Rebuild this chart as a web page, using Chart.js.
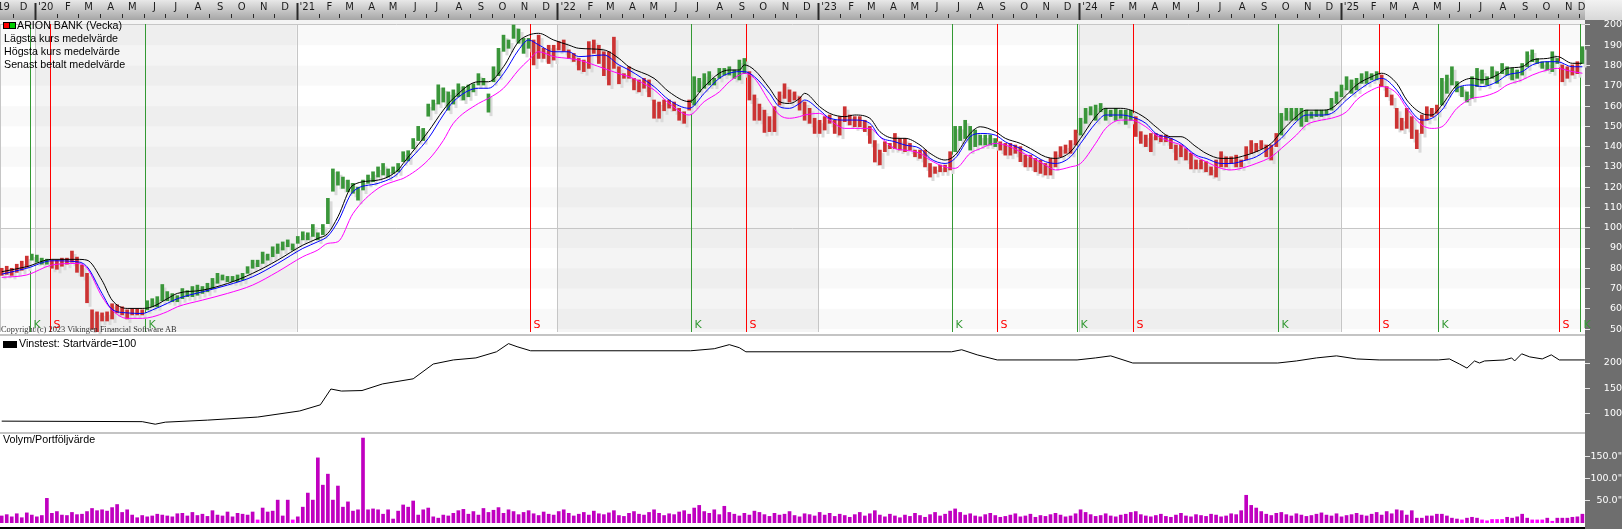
<!DOCTYPE html>
<html>
<head>
<meta charset="utf-8">
<title>ARION BANK (Vecka)</title>
<script src="https://cdn.jsdelivr.net/npm/chart.js@4.4.1/dist/chart.umd.min.js"></script>
<style>
  html, body { margin:0; padding:0; background:#fff; }
  body { position:relative; width:1622px; height:529px; overflow:hidden; }
  canvas { position:absolute; left:0; }
  #price { top:0; }
  #vinst { top:337px; }
  #volym { top:436px; }
  .axiscol { position:absolute; left:1585px; top:20px; width:37px; height:509px; background:#6e6e6e; }
  .corner { position:absolute; left:1585px; top:0; width:37px; height:20px; background:linear-gradient(#f2f2f2,#d8d8d8); }
  .sep { position:absolute; left:0; width:1585px; height:2px; background:#c4c4c4; }
  .txt { position:absolute; font-family:"Liberation Sans", Arial, sans-serif; font-size:10.7px; color:#000; white-space:nowrap; line-height:13px; z-index:5; }
  .copy { position:absolute; left:1px; top:325px; font-family:"Liberation Serif", "Times New Roman", serif; font-size:8.4px; line-height:10px; color:#333; z-index:5; white-space:nowrap; }
  .sq { position:absolute; width:5px; height:5px; border:1px solid #000; z-index:5; }
</style>
</head>
<body>
<div class="corner"></div>
<div class="axiscol"></div>
<canvas id="price" width="1622" height="334"></canvas>
<div class="sep" style="top:334px"></div>
<canvas id="vinst" width="1622" height="95"></canvas>
<div class="sep" style="top:432px"></div>
<canvas id="volym" width="1622" height="87"></canvas>
<div class="sep" style="top:527px;background:#000"></div>

<div class="sq" style="left:3px;top:22px;background:#ff0000"></div>
<div class="sq" style="left:9px;top:22px;background:#00cc00"></div>
<div class="txt" style="left:17px;top:19px">ARION BANK (Vecka)</div>
<div class="txt" style="left:4px;top:32px">Lägsta kurs medelvärde</div>
<div class="txt" style="left:4px;top:45px">Högsta kurs medelvärde</div>
<div class="txt" style="left:4px;top:58px">Senast betalt medelvärde</div>
<div class="copy">Copyright (c) 2023 Vikingen Financial Software AB</div>
<div class="sq" style="left:3px;top:341px;width:12px;background:#000"></div>
<div class="txt" style="left:19px;top:337px">Vinstest: Startvärde=100</div>
<div class="txt" style="left:3px;top:433px">Volym/Portföljvärde</div>

<script>
Chart.defaults.font.family = '"DejaVu Sans", sans-serif';
Chart.defaults.animation = false;

// veckostaplar, högsta / lägsta kurs
const weekHigh = [
80,81,80,82,83.5,86,87,86.5,85,84.5,
84,84,85,85,88.5,85.5,81.5,77.5,59.5,58.5,
58,58.5,62.5,62,61,59.5,60,60,59.5,64,
65,66,72,68.5,67.5,66.5,70,69,71,71.7,
71,72.6,75,77.5,76.7,76,76,76.7,77.5,80.8,
84,84,88,87,90.6,92,93,94,92,95.7,
98,97.5,101.6,97.5,101.6,114.5,129,127.6,125,123.5,
121.9,120,123.5,126,127.6,130,131.7,129,130,131.7,
137.5,138,144,150,149,161,163,170.5,169,167,
168,171,169.6,170.4,171,176,173.7,166,179.4,188.5,
195,192.6,200,198,193.4,193.4,192.6,195,188.5,190,
190,191.8,192.6,187.7,186,183.5,182.7,191.8,192.6,190,
186.8,186.8,194,179.4,176,179.4,173.7,172.9,173.7,172.9,
163,162,163,163,162,158.9,157.2,163,174.5,173.7,
176,177,173.7,178.6,178.6,179.4,177.8,182.7,183.5,177,
165.5,161,158,154.8,159.7,167,171,168,167,164.6,
162,158.9,154,153,154.8,155.6,153,154.8,159.7,155.6,
154.8,154.8,153,150,143,138.3,142.4,141.6,146.5,144,
144,141.6,138.3,138.3,138.3,131.7,130,130.9,130.9,137.5,
150,150,153,150,148.2,145.7,145.7,145.7,144,142.4,
141.6,141.6,140.8,140,135.8,135.8,134.2,133.4,131.7,134.2,
137.5,140,140.8,143,148.2,154,158.9,159.7,160.5,161.3,
158.9,158,158.9,158,158,158,154.8,147.4,145.7,146.5,
146.5,145.7,145.7,144,140.8,140.8,139,136.7,133.4,133.4,
132.6,130,133.4,137.5,135,135,135.8,133.4,140,143,
141.6,143,140.8,140.8,146.5,156.4,158.9,158.9,158.9,158.9,
158,157.2,158,158,158,163.8,167,170.4,174.5,172.9,
173.7,176,177,176,177,175.3,169.6,165.5,158.9,154,
158.9,154.8,148.2,155.6,159.7,158.9,160.5,173.7,175.3,179.4,
172.1,169.6,167,174.5,178.6,177.8,174.5,179.4,177,181,
179.4,178.6,177.8,181,186.8,187.7,183.5,181.9,181.9,186.8,
183.5,180.3,179.4,180.3,181.9,189.3
];
const weekLow = [
76.5,77,76.5,78,79,80.5,84,83,82,82,
80,79.5,81,82,83,78,76,63,50,48,
54,54,55,58,57,55,57,57,57,59.5,
61,61,64,64,63.5,63.5,65,66,66,66.7,
67.6,68.4,70,72.6,74.2,73.4,73.4,73.4,74.2,77.5,
80,80.8,82.4,84,85.7,87.3,89,90.6,89,92.3,
94,94,95.7,94,96.6,102,118,121,119.4,117.8,
117,113.6,118.6,121.9,122.7,125,126,125,126.8,127.6,
132.6,133,139,143,143,155,158,161,162,158,
161,164.6,163,164.6,167,170.4,170.4,157,172,175,
187,188.5,193.4,191,186,188.5,180.3,183.5,183.5,181,
182.7,187.7,187,183.5,182,177.8,177,178.6,186,181,
175,170.4,178.6,171,173.7,173.7,168,167,168.8,164.6,
154,154,157.7,159,157.7,153,151.5,158,160.5,167,
168.8,170.4,170.4,173.7,175.3,175.3,173.7,172.9,176,163,
153,153,147,147.4,147.4,160.5,163.8,162,163,158,
153,151.5,146.5,146.5,148.2,151.5,146.5,145.7,152.3,150.7,
149.8,149.8,147.4,141.6,132.4,131,137.5,139,139,138.3,
137.5,138.3,135,134.2,130,125,126.8,127.6,127.6,128.5,
137.5,143,144,138.3,140,140.8,140.8,140.8,140,138.3,
135.8,135.8,136.7,132.6,130,130,127.6,126.8,126,126,
130,135,136.7,136.7,140.8,145.7,151.5,155.6,153,157.2,
153,154.8,153,154,151,153,145,141.6,140,137.5,
143.3,142.4,142.4,139,133.4,135,133.4,129,129,129,
127.6,126,125,130,130,131.7,130,130,133.4,136.7,
137.5,139,135,133.4,140,145.7,153,153,153,150,
152.3,154,154.8,154.8,155.6,158,161.3,164.6,168,166.3,
168,171.2,171.2,172.9,172.9,169.6,164.6,160.5,149,148.2,
149,144,139,146.5,153,154.8,156.4,160.5,166.3,170.4,
167,164.6,162,163.8,169.6,171.2,170.4,173.7,171.2,176,
175.3,172.9,173.7,175.3,179.4,181.9,181,178.6,177.8,177,
181,172,173.7,175.3,176,181
];

// medelvärden, avlästa var tredje-femte vecka
const maWeeks = [0,5,10,15,17,20,22,25,28,30,33,35,40,45,50,55,60,63,65,67,70,75,79,80,85,88,90,95,97,100,103,105,107,110,113,115,120,123,125,130,133,137,140,143,145,147,148,150,153,155,157,159,160,163,165,168,170,173,175,178,180,183,185,188,190,193,195,198,200,203,205,208,210,213,215,218,220,223,225,228,230,233,235,238,240,243,245,248,250,253,255,258,260,263,265,268,270,273,275,278,280,283,285,287,290,293,295,298,300,303,305,308,310,313,315];
const maHigh = [78.3,80.8,84.4,84.4,84,74,64.3,60.2,60.2,61,65,67.6,69.2,72.5,77.5,84,91.4,94.7,97.2,105.4,121,123.5,128.5,131.7,147.4,158,163.8,172,172,179.4,191.8,195,195.9,192.6,190.1,188.5,187.7,183.5,179.4,173.7,167,162.2,169.6,176.2,177.8,177.8,180.3,177.8,168.8,162.2,161.3,163.8,166.3,159.7,156.4,154.8,155.6,154,147.4,144.1,144.1,140.8,136.7,133.4,135.8,146.5,149.8,147.4,144.1,141.6,139.1,135,134.2,137.5,144.1,154.8,158.9,158.9,158,154,149.8,144.9,144.9,140,136.7,134.2,134.2,135.8,137.5,141.6,147.4,154.8,158,158,158.9,165.5,170.4,174.5,176.2,171.2,163,156.4,155.6,160.5,170.4,173.7,172.9,175.3,178.6,179.4,182.7,183.5,184.4,181.1,181.1];
const maClose = [77.1,80,83.7,83.2,80.8,67.6,59.7,58,57.7,59.4,62.7,65,68.4,71.7,75.8,82.4,89.8,93.1,95.9,103,117.8,121.9,126.8,130,144,155.6,162.2,168.8,168.8,176,187.7,192.6,190.2,186.8,186.8,184.4,185.2,180.3,177.8,169.6,163,158.9,166.3,173.7,176.2,177,177,174.5,166.3,159.7,158.9,161.3,163,158,154,153.1,153.1,151.5,144.9,142.4,140.8,139.1,134.2,131.7,134.2,144.9,146.5,145.7,142.4,139.1,136.7,132.6,131.7,135,141.6,151.5,155.6,155.6,154.8,151.5,146.5,144.1,141.6,135.8,134.2,131.7,131.7,133.4,135,140,144.1,152.3,155.6,155.6,156.4,163,167.1,172,173.7,167.9,160.5,153.1,154,158,168.8,170.4,169.6,172,175.3,177,180.3,181.9,181.9,179.4,179.4];
const maLow = [75.5,76.7,81.6,82.4,80,66,59.4,55.3,55.3,56,58.6,61,64.3,67.6,71.7,78.3,85.7,89,92.3,93.1,107,119.4,123.5,124.3,133.4,143,151.5,161.3,163.8,168.8,177.8,182.7,186.8,184.4,183.5,182.7,178.6,176,174.5,168,161.3,155.6,162.2,167,172,175.3,176.2,173.7,162.2,155.6,154,154.8,155.6,156.4,153.1,149,149,149,144.9,139,138.3,136.7,133.4,130,129.3,136.7,139,141.6,140.8,137.5,135,130.9,128.5,130,131.7,141.6,149,153.1,153.1,149.8,145.7,142.4,140.8,135,132.6,129.3,128.5,130,131.7,135,139.1,145.7,150.7,153.1,154,157.2,163,167.9,169.6,166.3,158.9,150.7,149,149.8,158.9,163.8,164.6,167.1,170.4,172.9,175.3,177.8,178.6,177,176.2];

// köp- (K) och säljsignaler (S), i veckor
const buyWeeks  = [5.6, 28.6, 137.3, 189.3, 214.3, 254.3, 286.3, 314.5];
const sellWeeks = [9.6, 105.3, 148.3, 198.4, 225.4, 274.5, 310.4];

// vinstest
const vinWeeks  = [0,28,30.6,32.6,41,51,59.4,63.5,65.6,67.7,71.8,75.9,82,86,90,94.5,98.6,101,102.7,105.4,137.3,142,145,147,148.3,189.3,191.3,194.4,198.4,214.3,218,221,225.4,254.3,258,262,266,270,274.5,286.3,288.5,290.5,292,293.5,294.5,295.5,299.5,300.9,301.5,302.9,304.5,307,308.8,310.4,315.5];
const vinValues = [86,85,80,84,88,94,106,118,149,145,146,159,169,198,206,210,222,238,232,224,224,228,236,230,222,222,226,216,206,206,210,214,200,200,204,210,214,208,206,206,208,198,190,204,200,204,206,210,204,218,212,208,216,206,206];

// volym per vecka
const volume = [
16,19,14,21,12,23,18,14,17,56,
22,26,18,17,24,19,20,26,33,28,
30,27,35,42,24,30,18,12,17,14,
16,20,18,16,14,21,22,16,24,17,
20,15,28,18,16,25,14,22,20,18,
25,7,34,25,27,52,16,52,7,14,
36,68,52,148,86,111,52,84,36,48,
27,30,193,30,32,30,20,30,9,27,
41,36,50,18,30,34,14,11,18,16,
22,28,31,20,26,18,33,24,29,35,
22,30,26,19,24,28,21,17,25,20,
18,26,30,22,16,20,24,18,27,21,
19,23,28,17,15,22,26,20,18,24,
30,22,17,21,19,25,28,20,34,40,
26,22,30,19,38,24,20,16,22,18,
27,24,19,15,22,18,20,26,17,14,
21,19,16,24,18,22,15,20,17,13,
19,24,16,21,28,18,14,20,16,12,
18,15,22,17,13,19,24,16,20,27,
32,24,18,21,16,14,19,22,17,13,
15,18,21,14,16,20,13,17,15,19,
22,18,14,16,21,30,24,19,15,17,
21,16,14,18,20,24,26,19,16,14,
17,20,15,13,18,22,16,14,19,17,
15,20,18,14,16,21,19,28,63,40,
34,26,20,17,22,24,19,16,21,18,
15,17,20,23,18,16,21,14,17,19,
22,18,16,20,24,18,26,21,30,
28,18,28,11,11,16,16,20,20,16,
11,9,7,11,13,11,7,5,8,8,
8,13,11,14,20,11,7,7,7,11,
4,11,11,11,13,14,20
];

const priceTicks = [50,60,70,80,90,100,110,120,130,140,150,160,170,180,190,200];
const vinTicks = [100,150,200];
const volTicks = [50,100,150];
const monthLetters = ['J','F','M','A','M','J','J','A','S','O','N','D'];

const GREEN = '#3a963a', RED = '#cc3333';
const X_MIN = -0.34, X_MAX = 315.52;

// datum -> veckoposition på x-axeln
const JAN2020 = Date.UTC(2020,0,1);
function weekOf(y,m,d){ return 6.64 + (Date.UTC(y,m,d)-JAN2020)/86400000*0.14242; }

const monthStarts=[], monthCenters=[], monthLabels=[];
for (let y=2019, m=10; y<2026; ) {
  monthStarts.push({w: weekOf(y,m,1), jan: m===0});
  monthCenters.push(Math.min(weekOf(y,m,16), X_MAX-0.7));
  monthLabels.push(monthLabels.length===0 || m===0 ? "'"+String(y).slice(2) : monthLetters[m]);
  m++; if (m===12){ m=0; y++; }
}
const yearStarts = monthStarts.filter(s=>s.jan).map(s=>s.w);

const signals = buyWeeks.map(w=>({w, buy:true}))
  .concat(sellWeeks.map(w=>({w, buy:false})))
  .sort((a,b)=>a.w-b.w);
const barColors = weekHigh.map((_,i)=>{
  let buy=false;
  signals.forEach(s=>{ if (s.w < i) buy = s.buy; });
  return buy ? GREEN : RED;
});

function rightAxis(min, max, ticks, pad, fmt){
  return {
    position:'right', min, max,
    afterFit(s){ s.width = 37; s.paddingTop = 0; s.paddingBottom = 0; },
    afterBuildTicks(s){ s.ticks = ticks.map(v=>({value:v})); },
    ticks:{ color:'#ffffff', crossAlign:'far', padding:pad, font:{size:9.5}, callback: fmt },
    grid:{ display:true, drawOnChartArea:false, drawTicks:true, tickLength:5, color:'#e4e4e4' },
    border:{ display:false }
  };
}
const hiddenX = { type:'linear', min:X_MIN, max:X_MAX, display:false, offset:false };

// bakgrund: tidsremsa, årsband, rutnät
const priceBg = {
  id:'priceBg',
  beforeDraw(chart){
    const {ctx, chartArea:a, scales:{x, y}} = chart;
    ctx.save();
    const g = ctx.createLinearGradient(0,0,0,20);
    g.addColorStop(0,'#e8e8e8'); g.addColorStop(1,'#a6a6a6');
    ctx.fillStyle = g; ctx.fillRect(0,0,a.right,20);
    ctx.fillStyle = '#f4f4f4'; ctx.fillRect(0,20,a.right,a.top-20);
    ctx.strokeStyle = '#2a2a2a'; ctx.lineWidth = 1;
    monthStarts.forEach(s=>{
      const px = Math.round(x.getPixelForValue(s.w))+0.5;
      ctx.beginPath();
      if (s.jan) { ctx.lineWidth = 2; ctx.moveTo(px,3); ctx.lineTo(px,20); }
      else { ctx.lineWidth = 1; ctx.moveTo(px,14); ctx.lineTo(px,18); }
      ctx.stroke();
    });
    // årsband
    ctx.fillStyle = '#f4f4f4';
    for (let k=0; k<yearStarts.length; k+=2) {
      const x1 = x.getPixelForValue(yearStarts[k]);
      const x2 = k+1<yearStarts.length ? x.getPixelForValue(yearStarts[k+1]) : a.right;
      ctx.fillRect(x1, a.top, x2-x1, a.bottom-a.top);
    }
    ctx.fillStyle = 'rgba(0,0,0,0.022)';
    for (let v=50; v<200; v+=20) {
      const y1 = y.getPixelForValue(v+10), y2 = y.getPixelForValue(v);
      ctx.fillRect(a.left, y1, a.right-a.left, y2-y1);
    }
    ctx.strokeStyle = '#c6c6c6'; ctx.lineWidth = 1;
    const y100 = Math.round(y.getPixelForValue(100))+0.5;
    ctx.beginPath(); ctx.moveTo(a.left,y100); ctx.lineTo(a.right,y100); ctx.stroke();
    yearStarts.forEach(w=>{
      const px = Math.round(x.getPixelForValue(w))+0.5;
      ctx.beginPath(); ctx.moveTo(px,a.top); ctx.lineTo(px,a.bottom); ctx.stroke();
    });
    ctx.beginPath(); ctx.moveTo(a.left,a.top+0.5); ctx.lineTo(a.right,a.top+0.5);
    ctx.moveTo(0.5,a.top); ctx.lineTo(0.5,a.bottom); ctx.stroke();
    ctx.restore();
  },
  beforeDatasetsDraw(chart){
    const {ctx, chartArea:a, scales:{x}} = chart;
    ctx.save();
    ctx.font = '11px "DejaVu Sans", sans-serif';
    ctx.textBaseline = 'alphabetic';
    signals.forEach(s=>{
      const px = Math.round(x.getPixelForValue(s.w))+0.5;
      const col = s.buy ? '#339933' : '#ff0000';
      ctx.strokeStyle = col; ctx.lineWidth = 1;
      ctx.beginPath(); ctx.moveTo(px,a.top); ctx.lineTo(px,a.bottom); ctx.stroke();
      ctx.fillStyle = col;
      ctx.fillText(s.buy ? 'K' : 'S', px+3, 328);
    });
    ctx.restore();
  },
  beforeDatasetDraw(chart, args){
    if (args.meta.type !== 'bar') return;
    const ctx = chart.ctx;
    ctx.save();
    ctx.fillStyle = '#dadada';
    args.meta.data.forEach(b=>{
      const top = Math.min(b.y, b.base), h = Math.abs(b.base-b.y);
      ctx.fillRect(Math.round(b.x)+1.5, top+3, 3, h+1);
    });
    ctx.restore();
  }
};

const maLine = (vals, color) => ({
  type:'line', data: maWeeks.map((w,k)=>({x:w, y:vals[k]})),
  borderColor:color, borderWidth:1, pointRadius:0, cubicInterpolationMode:'monotone', order:1
});

new Chart(document.getElementById('price'), {
  type:'bar',
  data:{ datasets:[
    maLine(maHigh, '#000000'),
    maLine(maClose, '#0000ff'),
    maLine(maLow, '#ff00ff'),
    { type:'bar', data: weekHigh.map((h,i)=>({x:i, y:[weekLow[i], h]})),
      backgroundColor: barColors, barThickness:3, grouped:false, borderWidth:0, order:2 }
  ]},
  options:{
    responsive:false, devicePixelRatio:1, animation:false,
    layout:{ padding:{ left:0, right:0, top:0, bottom:2 } },
    plugins:{ legend:{display:false}, tooltip:{enabled:false} },
    scales:{
      x:{ type:'linear', position:'top', min:X_MIN, max:X_MAX, offset:false,
          afterFit(s){ s.height = 24; s.paddingLeft = 0; s.paddingRight = 0; },
          afterBuildTicks(s){ s.ticks = monthCenters.map(v=>({value:v})); },
          ticks:{ autoSkip:false, maxRotation:0, minRotation:0, padding:10.5, color:'#1c1c1c',
                  font:{size:10}, callback:(v,i)=>monthLabels[i] },
          grid:{ display:false, drawTicks:false }, border:{ display:false } },
      y: rightAxis(48.57, 200.49, priceTicks, 10, v=>String(v))
    }
  },
  plugins:[priceBg]
});

new Chart(document.getElementById('vinst'), {
  type:'line',
  data:{ datasets:[{ data: vinWeeks.map((w,k)=>({x:w, y:vinValues[k]})),
    borderColor:'#000', borderWidth:1, pointRadius:0, tension:0 }]},
  options:{
    responsive:false, devicePixelRatio:1, animation:false,
    layout:{ padding:0 },
    plugins:{ legend:{display:false}, tooltip:{enabled:false} },
    scales:{ x: hiddenX, y: rightAxis(64.7, 251, vinTicks, 10, v=>String(v)) }
  }
});

new Chart(document.getElementById('volym'), {
  type:'bar',
  data:{ datasets:[{ data: volume.map((v,i)=>({x:i, y:v})),
    backgroundColor: volume.map(v=> v<8.5 ? '#ff00ff' : '#c000c0'),
    barThickness:3, borderWidth:0 }]},
  options:{
    responsive:false, devicePixelRatio:1, animation:false,
    layout:{ padding:0 },
    plugins:{ legend:{display:false}, tooltip:{enabled:false} },
    scales:{ x: hiddenX, y: rightAxis(0, 197.7, volTicks, -3.5, v=>v.toFixed(1)+'"') }
  }
});
</script>
</body>
</html>
